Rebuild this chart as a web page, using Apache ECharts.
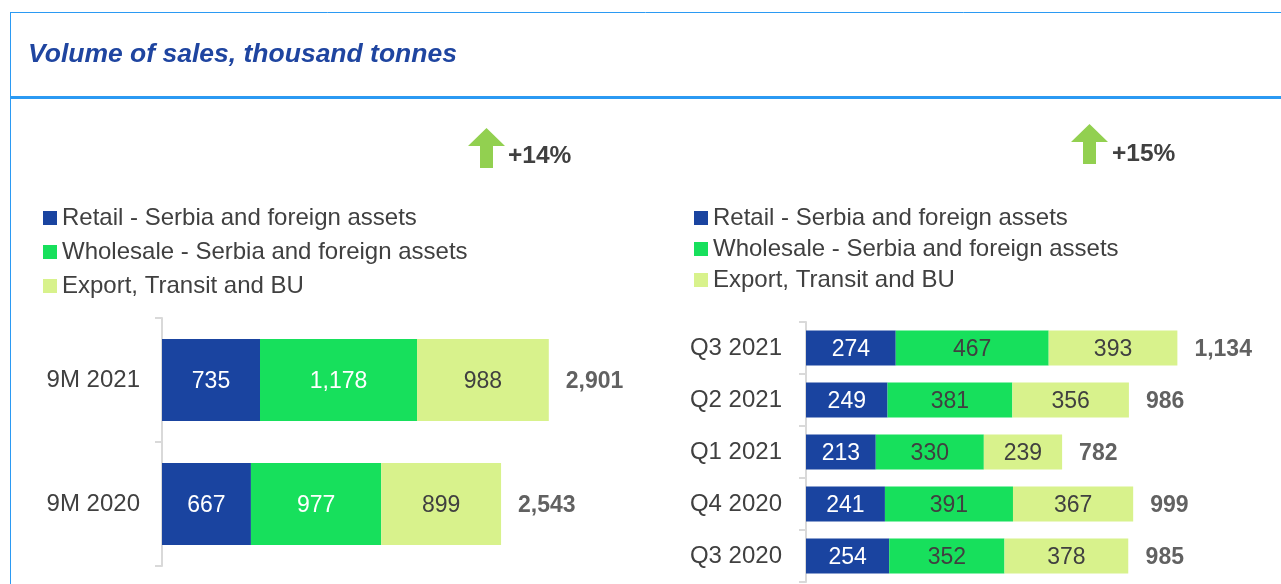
<!DOCTYPE html>
<html>
<head>
<meta charset="utf-8">
<script src="https://cdn.jsdelivr.net/npm/echarts@6/dist/echarts.min.js"></script>
<style>
  html, body { margin: 0; padding: 0; background: #fff; }
  #chart { width: 1281px; height: 584px; }
</style>
</head>
<body>
<div id="chart"></div>
<script>
// data
var seriesNames = ['Retail - Serbia and foreign assets', 'Wholesale - Serbia and foreign assets', 'Export, Transit and BU'];

var ytdCategories = ['9M 2021', '9M 2020'];
var ytdRetail = [735, 667];
var ytdWholesale = [1178, 977];
var ytdExport = [988, 899];
var ytdTotals = [2901, 2543];
var ytdGrowth = '+14%';

var qCategories = ['Q3 2021', 'Q2 2021', 'Q1 2021', 'Q4 2020', 'Q3 2020'];
var qRetail = [274, 249, 213, 241, 254];
var qWholesale = [467, 381, 330, 391, 352];
var qExport = [393, 356, 239, 367, 378];
var qTotals = [1134, 986, 782, 999, 985];
var qGrowth = '+15%';

var colors = ['#1A44A0', '#17E05C', '#D8F28C'];
var txt = '#404040';
var font = 'Liberation Sans, Arial, sans-serif';
var lineBlue = '#2B9AF3';

var chart = echarts.init(document.getElementById('chart'));

function fmt(v) {
  return String(v).replace(/\B(?=(\d{3})+(?!\d))/g, ',');
}

function stackBar(name, data, color, labelColor, axis) {
  return {
    name: name,
    type: 'bar',
    stack: 'tot' + axis,
    xAxisIndex: axis,
    yAxisIndex: axis,
    barWidth: axis === 0 ? 82 : 35,
    data: data,
    itemStyle: { color: color },
    label: {
      show: true,
      position: 'inside',
      offset: [0, 2],
      color: labelColor,
      fontSize: 23,
      fontFamily: font,
      formatter: function (p) { return fmt(p.value); }
    },
    silent: true
  };
}

function totals(data, axis) {
  return {
    type: 'scatter',
    xAxisIndex: axis,
    yAxisIndex: axis,
    symbolSize: 0,
    data: data,
    label: {
      show: true,
      position: 'right',
      distance: 17,
      offset: [0, 2],
      color: '#3A3A3A',
      fontSize: 23,
      fontWeight: 'bold',
      fontFamily: font,
      formatter: function (p) { return fmt(p.value); }
    },
    silent: true
  };
}

function catAxis(cats, grid, margin) {
  return {
    type: 'category',
    gridIndex: grid,
    data: cats,
    inverse: true,
    axisLine: { show: true, lineStyle: { color: '#D9D9D9', width: 2 } },
    axisTick: { show: true, length: 7, lineStyle: { color: '#D9D9D9', width: 2 } },
    axisLabel: { color: txt, fontSize: 24, fontFamily: font, margin: margin, padding: [4, 0, 0, 0] }
  };
}

function arrow(x, y) {
  // up arrow: head 37 wide, 18 tall; shaft 13 wide, total 40 tall
  return {
    type: 'polygon',
    shape: {
      points: [
        [x + 18.5, y], [x + 37, y + 18], [x + 25, y + 18], [x + 25, y + 40],
        [x + 12, y + 40], [x + 12, y + 18], [x, y + 18]
      ]
    },
    style: { fill: '#92D050' }
  };
}

function legendAt(left, gap) {
  return {
    orient: 'vertical', left: left, top: 200, itemGap: gap,
    itemWidth: 14, itemHeight: 14, icon: 'rect', selectedMode: false,
    data: seriesNames,
    textStyle: { color: txt, fontSize: 24, fontFamily: font, lineHeight: 26, padding: [0, 0, 0, 0] }
  };
}

var option = {
  backgroundColor: '#fff',
  animation: false,
  color: colors,
  graphic: [
    { type: 'line', shape: { x1: 10, y1: 12.5, x2: 1281, y2: 12.5 }, style: { stroke: lineBlue, lineWidth: 1 } },
    { type: 'line', shape: { x1: 10.5, y1: 12, x2: 10.5, y2: 584 }, style: { stroke: lineBlue, lineWidth: 1 } },
    { type: 'line', shape: { x1: 10, y1: 97.5, x2: 1281, y2: 97.5 }, style: { stroke: lineBlue, lineWidth: 3 } },
    {
      type: 'text', x: 28, y: 55,
      style: {
        text: 'Volume of sales, thousand tonnes', fill: '#1F45A0',
        font: 'italic bold 26.5px ' + font, verticalAlign: 'middle'
      }
    },
    arrow(468, 128),
    { type: 'text', x: 508, y: 156, style: { text: ytdGrowth, fill: txt, font: 'bold 24.5px ' + font, verticalAlign: 'middle' } },
    arrow(1071, 124),
    { type: 'text', x: 1112, y: 154, style: { text: qGrowth, fill: txt, font: 'bold 24.5px ' + font, verticalAlign: 'middle' } }
  ],
  legend: [legendAt(38, 8), legendAt(689, 5)],
  grid: [
    { left: 162, top: 318, width: 400, height: 248 },
    { left: 806, top: 322, width: 393, height: 260 }
  ],
  xAxis: [
    { type: 'value', gridIndex: 0, min: 0, max: 3000, show: false },
    { type: 'value', gridIndex: 1, min: 0, max: 1200, show: false }
  ],
  yAxis: [
    catAxis(ytdCategories, 0, 22),
    catAxis(qCategories, 1, 24)
  ],
  series: [
    stackBar(seriesNames[0], ytdRetail, colors[0], '#fff', 0),
    stackBar(seriesNames[1], ytdWholesale, colors[1], '#fff', 0),
    stackBar(seriesNames[2], ytdExport, colors[2], txt, 0),
    totals(ytdTotals, 0),
    stackBar(seriesNames[0], qRetail, colors[0], '#fff', 1),
    stackBar(seriesNames[1], qWholesale, colors[1], txt, 1),
    stackBar(seriesNames[2], qExport, colors[2], txt, 1),
    totals(qTotals, 1)
  ]
};

chart.setOption(option);
</script>
</body>
</html>
